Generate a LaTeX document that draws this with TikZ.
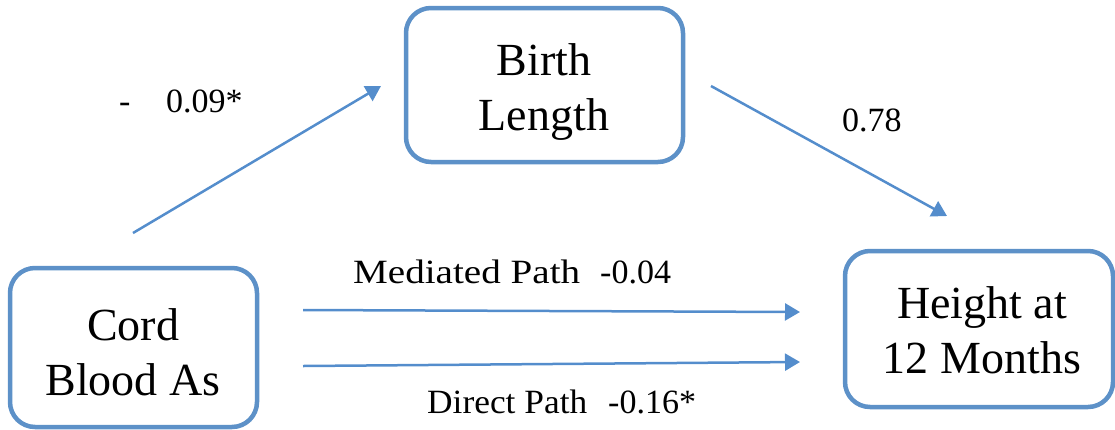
\documentclass[tikz,border=0pt]{standalone}
\usepackage{fontspec}
\setmainfont{Liberation Serif}
\usetikzlibrary{arrows.meta}
\definecolor{boxblue}{RGB}{93,145,200}
\definecolor{arrblue}{RGB}{84,141,204}
\begin{document}
\begin{tikzpicture}[x=1pt,y=-1pt,
  varbox/.style={draw=boxblue, line width=4.5pt, rounded corners=25pt, fill=white, inner sep=0pt},
  boxtext/.style={font=\fontsize{46}{55}\selectfont, align=center, inner sep=0pt, anchor=base},
  lab/.style={font=\fontsize{34}{40}\selectfont, inner sep=0pt, anchor=base west},
  path arrow/.style={draw=arrblue, line width=2.5pt, -{Triangle[length=15pt,width=17pt]}}]
\useasboundingbox (0,0) rectangle (1115,429);
% boxes
\node[varbox, minimum width=277pt, minimum height=154pt] (birth) at (544.5,85) {};
\node[varbox, minimum width=247pt, minimum height=159pt] (cord) at (133.5,347.5) {};
\node[varbox, minimum width=268pt, minimum height=156pt] (height) at (979,329) {};
% box texts
\node[boxtext] (t1) at (544,75) {Birth};
\node[boxtext] (t2) at (544,130) {Length};
\node[boxtext] (t3) at (133,340) {Cord};
\node[boxtext] (t4) at (133,395) {Blood As};
\node[boxtext] (t5) at (982,318) {Height at};
\node[boxtext] (t6) at (982,373) {12 Months};
% arrow end points
\coordinate (a1s) at (133,233);
\coordinate (a1e) at (381,86);
\coordinate (a2s) at (711,86);
\coordinate (a2e) at (947,216);
\coordinate (ms) at (303,310);
\coordinate (me) at (800,312);
\coordinate (ds) at (303,366);
\coordinate (de) at (800,362);
\draw[path arrow] (a1s) -- (a1e);
\draw[path arrow] (a2s) -- (a2e);
\draw[path arrow] (ms) -- (me);
\draw[path arrow] (ds) -- (de);
% labels
\node[lab] (l1) at (119,112) {-};
\node[lab] (l1b) at (166,112) {0.09*};
\node[lab] (l2) at (842,131) {0.78};
\node[lab] (l3) at (353,283) {\scalebox{1.15}[1]{Mediated Path}};
\node[lab] (l3b) at (600,283) {-0.04};
\node[lab] (l4) at (427,413) {\scalebox{1.04}[1]{Direct Path}};
\node[lab] (l4b) at (608,413) {-0.16*};
\end{tikzpicture}
\end{document}
